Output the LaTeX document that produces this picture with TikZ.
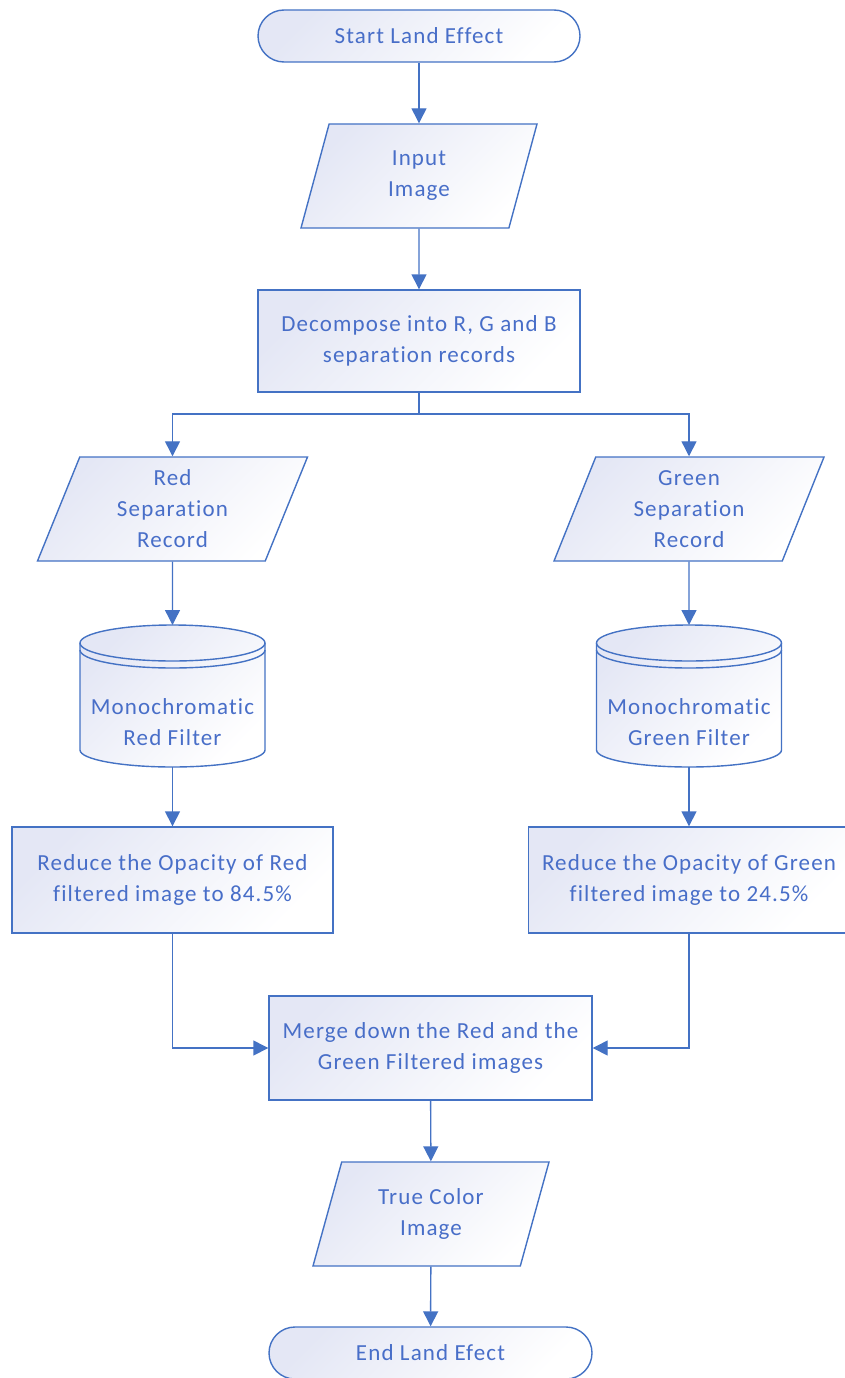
\documentclass[tikz,border=0pt]{standalone}
\usepackage{fontspec}
\setmainfont{Carlito}[LetterSpace=5,Ligatures=NoCommon]
\usepackage{tikz}
\usetikzlibrary{positioning,shapes.geometric,arrows.meta}
\definecolor{flowblue}{RGB}{68,114,196}
\definecolor{flowtext}{RGB}{72,110,200}
\definecolor{flowfill}{RGB}{228,231,245}
\tikzset{
		shadeStyle/.style = {left color=flowfill, right color=white, shading angle=45},
		lineStyle/.style = 	{draw=flowblue, line width = 1.4pt},
		arrowStyle/.style = {lineStyle, -{Triangle[length=15pt,width=15pt]}},
		textStyle/.style = 	{text=flowtext, align=center, font=\fontsize{23}{31}\selectfont},
		boxBase/.style = 	{lineStyle, shadeStyle, textStyle},
		terminal/.style = 	{boxBase, rectangle, rounded corners=26pt, minimum width=322pt, minimum height=52pt},
		process/.style = 	{boxBase, rectangle, minimum width=322pt, minimum height=104pt},
		io/.style = 		{boxBase, trapezium, trapezium left angle=63.5, trapezium right angle=116.5,
		                 trapezium stretches body, minimum height=104pt, inner xsep=2pt},
		dbText/.style = 	{textStyle}
}

\begin{document}
\begin{tikzpicture}[x=1pt,y=1pt]
  \useasboundingbox (0,0) rectangle (845,-1378);

  \node [terminal] (start) at (419,-36) {Start Land Effect};
  \node [io, minimum width=236pt] (input) at (419,-176) {Input\\Image};
  \node [process, minimum height=102pt] (decompose) at (419,-341) {Decompose into R, G and B\\separation records};
  \node [io, minimum width=270pt] (redRec) at (172.5,-509) {Red\\Separation\\Record};
  \node [io, minimum width=270pt] (greenRec) at (689,-509) {Green\\Separation\\Record};

  % the two filter drums
  \coordinate (redDb) at (172.5,-696);
  \coordinate (greenDb) at (689,-696);
  \foreach \db in {redDb,greenDb}
    {\begin{scope}[shift={(\db)}]
       \path [shadeStyle] (-92.5,53) arc[start angle=180,end angle=0,x radius=92.5,y radius=18]
         -- (92.5,-54) arc[start angle=0,end angle=-180,x radius=92.5,y radius=17] -- cycle;
       \draw [lineStyle] (-92.5,53) arc[start angle=180,end angle=0,x radius=92.5,y radius=18]
         -- (92.5,-54) arc[start angle=0,end angle=-180,x radius=92.5,y radius=17] -- cycle;
       \draw [lineStyle] (-92.5,53) arc[start angle=180,end angle=360,x radius=92.5,y radius=18];
       \draw [lineStyle] (-92.5,46) arc[start angle=180,end angle=360,x radius=92.5,y radius=18];
     \end{scope}}
  \coordinate (redDbTop) at (172.5,-625);
  \coordinate (redDbBot) at (172.5,-767);
  \coordinate (greenDbTop) at (689,-625);
  \coordinate (greenDbBot) at (689,-767);
  \node [dbText] (redFilter) at (172.5,-722) {Monochromatic\\Red Filter};
  \node [dbText] (greenFilter) at (689,-722) {Monochromatic\\Green Filter};

  \node [process, minimum width=321pt, minimum height=106pt] (redReduce) at (172.5,-880) {Reduce the Opacity of Red\\filtered image to 84.5\%};
  \node [process, minimum width=321pt, minimum height=106pt] (greenReduce) at (689,-880) {Reduce the Opacity of Green\\filtered image to 24.5\%};
  \node [process, minimum width=323pt] (merge) at (430.5,-1048) {Merge down the Red and the\\Green Filtered images};
  \node [io, minimum width=236pt] (trueColor) at (431,-1214) {True Color\\Image};
  \node [terminal, minimum width=323pt] (finish) at (430.5,-1353) {End Land Efect};

  \coordinate (split) at (419,-414);
  \draw [arrowStyle] (start) -- (input);
  \draw [arrowStyle] (input) -- (decompose);
  \draw [arrowStyle] (decompose.south) -- (split) -| (redRec.north);
  \draw [arrowStyle] (split) -| (greenRec.north);
  \draw [arrowStyle] (redRec.south) -- (redDbTop);
  \draw [arrowStyle] (greenRec.south) -- (greenDbTop);
  \draw [arrowStyle] (redDbBot) -- (redReduce.north);
  \draw [arrowStyle] (greenDbBot) -- (greenReduce.north);
  \draw [arrowStyle] (redReduce.south) |- (merge.west);
  \draw [arrowStyle] (greenReduce.south) |- (merge.east);
  \draw [arrowStyle] (merge) -- (trueColor);
  \draw [arrowStyle] (trueColor) -- (finish);

\end{tikzpicture}
\end{document}
